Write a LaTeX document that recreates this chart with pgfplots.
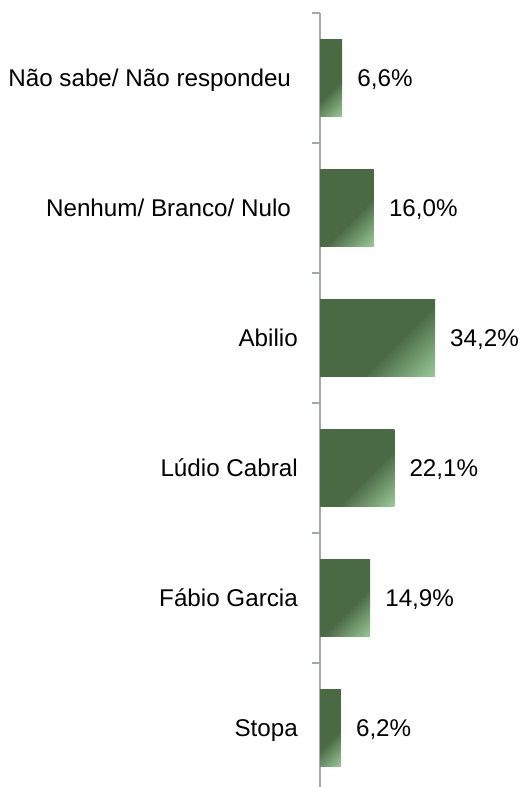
\documentclass[border=0pt]{standalone}
\usepackage{pgfplots}
\pgfplotsset{compat=1.18}
\usepackage{fontspec}
\setmainfont{Liberation Sans}
\definecolor{bardark}{HTML}{4A6A44}
\definecolor{barlight}{HTML}{9DCC9B}
\definecolor{axgray}{HTML}{A5A8AC}
\pgfdeclarehorizontalshading{barshade}{100bp}{color(0bp)=(bardark); color(59bp)=(bardark); color(86bp)=(barlight); color(100bp)=(barlight)}
\newcommand{\lblfont}{\fontsize{24.3}{28}\selectfont}
\begin{document}
\begin{tikzpicture}
\useasboundingbox (0,0) rectangle (521bp,787bp);
\begin{axis}[
  at={(320bp,0bp)}, anchor=south west,
  scale only axis, width=201bp, height=774bp,
  xmin=0, xmax=59.77, ymin=-0.454, ymax=5.5,
  axis x line=none, axis y line*=left,
  axis line style={draw=axgray, line width=2bp},
  tick align=outside,
  ytick={0,...,5},
  yticklabels={Stopa, Fábio Garcia, Lúdio Cabral, Abilio, {Nenhum/ Branco/ Nulo\kern6.8bp}, {Não sabe/ Não respondeu\kern6.8bp}},
  major tick length=0pt,
  ytick style={draw=axgray, line width=1.5bp},
  extra y ticks={0.5,1.5,2.5,3.5,4.5,5.5},
  extra y tick labels={},
  extra y tick style={major tick length=8bp, ytick style={draw=axgray, line width=1.5bp}},
  yticklabel style={anchor=base east, inner sep=0pt, xshift=-22bp, yshift=-8.7bp, font=\lblfont, text=black},
  point meta=x,
  /pgf/number format/assume math mode=true,
  mybar/.style={xbar, bar width=77bp, bar shift=0pt, draw=none, shade, shading=barshade, shading angle=-45,
    nodes near coords={\pgfmathprintnumber[fixed,fixed zerofill,precision=1,use comma,assume math mode=true]{\pgfplotspointmeta}\%},
    nodes near coords style={anchor=base west, inner sep=0pt, xshift=15bp, yshift=-8.7bp, font=\lblfont, text=black}},
]
\addplot[mybar] coordinates {(6.2,0)};
\addplot[mybar] coordinates {(14.9,1)};
\addplot[mybar] coordinates {(22.1,2)};
\addplot[mybar] coordinates {(34.2,3)};
\addplot[mybar] coordinates {(16.0,4)};
\addplot[mybar] coordinates {(6.6,5)};
\end{axis}
\end{tikzpicture}
\end{document}
